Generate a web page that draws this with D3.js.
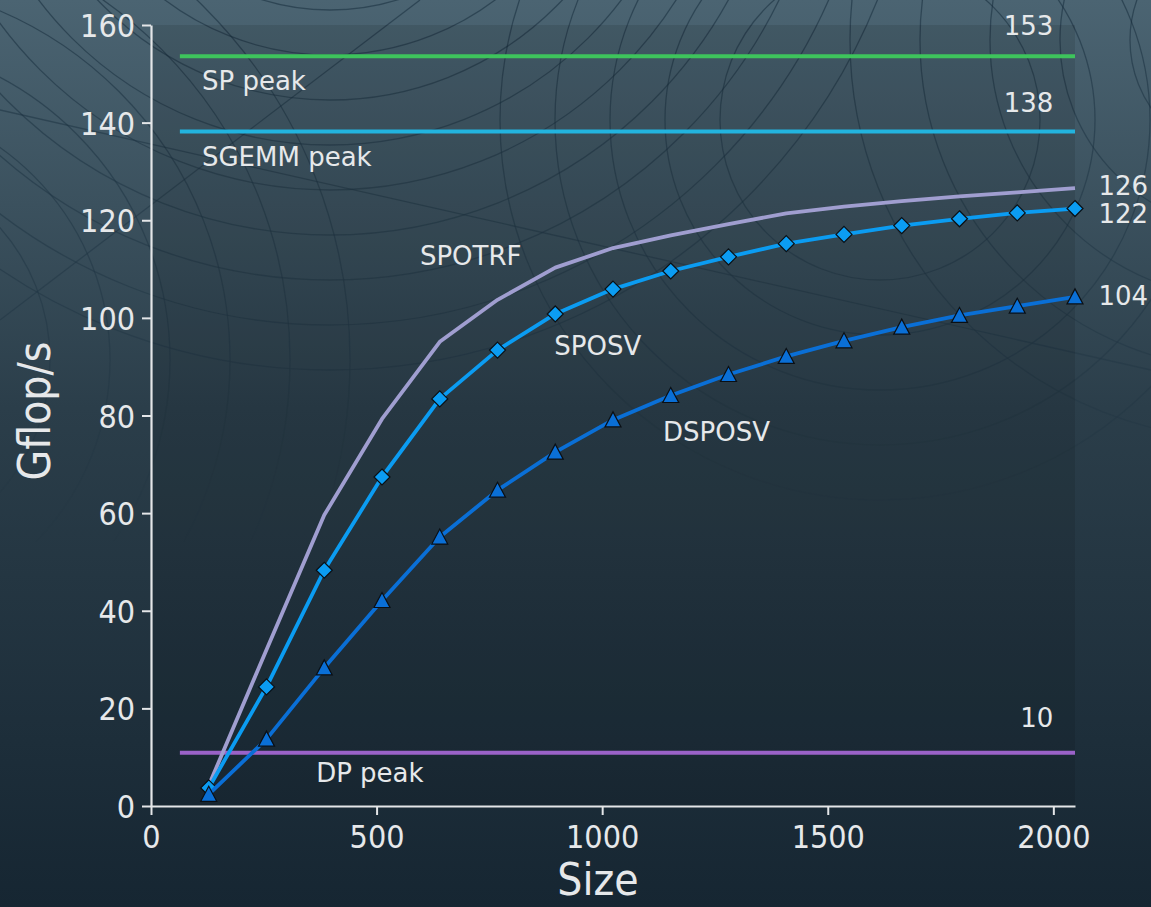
<!DOCTYPE html>
<html>
<head>
<meta charset="utf-8">
<script src="https://cdn.jsdelivr.net/npm/d3@7"></script>
<style>
  body { margin: 0; background: #1b2d38; }
  svg { display: block; }
  .tick text { font-family: "DejaVu Sans Condensed", "DejaVu Sans", sans-serif; font-stretch: condensed; font-size: 32px; fill: #e6e8ea; }
  .ann { font-family: "DejaVu Sans", sans-serif; font-size: 26px; fill: #e6e8ea; }
  .axis-label { font-family: "DejaVu Sans Condensed", "DejaVu Sans", sans-serif; font-stretch: condensed; font-size: 44px; fill: #e6e8ea; }
</style>
</head>
<body>
<div class="chart"></div>
<script>
// matrix sizes
var sizes = [128, 256, 384, 512, 640, 768, 896, 1024, 1152, 1280, 1408, 1536, 1664, 1792, 1920, 2048];

// Gflop/s per routine
var spotrf = [4.2, 32.0, 59.6, 79.3, 95.1, 103.7, 110.3, 114.3, 116.9, 119.2, 121.4, 122.8, 123.9, 124.9, 125.7, 126.6];
var sposv  = [3.7, 24.4, 48.3, 67.4, 83.4, 93.4, 100.8, 105.9, 109.6, 112.5, 115.2, 117.1, 118.9, 120.3, 121.5, 122.4];
var dsposv = [2.4, 13.7, 28.3, 42.1, 55.1, 64.7, 72.5, 79.1, 84.1, 88.4, 92.1, 95.3, 98.1, 100.5, 102.4, 104.3];

// peak lines
var peakNames  = ["SP peak", "SGEMM peak", "DP peak"];
var peakValues = [153.6, 138.2, 10.9];
var peakStart = 64, peakEnd = 2048;

var xTicks = [0, 500, 1000, 1500, 2000];
var yTicks = [0, 20, 40, 60, 80, 100, 120, 140, 160];

var W = 1151, H = 907;
var margin = { top: 25, right: 76, bottom: 101, left: 151 };

var x = d3.scaleLinear().domain([0, 2048]).range([margin.left, W - margin.right]);
var y = d3.scaleLinear().domain([0, 160]).range([H - margin.bottom, margin.top]);

var svg = d3.select(".chart").append("svg")
    .attr("width", W)
    .attr("height", H);

var defs = svg.append("defs");
var bg = defs.append("linearGradient").attr("id", "bg")
    .attr("x1", 0).attr("y1", 0).attr("x2", 0).attr("y2", 1);
bg.append("stop").attr("offset", "0%").attr("stop-color", "#4b6472");
bg.append("stop").attr("offset", "45%").attr("stop-color", "#2b3e4a");
bg.append("stop").attr("offset", "100%").attr("stop-color", "#162632");

var fade = defs.append("linearGradient").attr("id", "fade")
    .attr("x1", 0).attr("y1", 0).attr("x2", 0).attr("y2", 1);
fade.append("stop").attr("offset", "0%").attr("stop-color", "#fff");
fade.append("stop").attr("offset", "35%").attr("stop-color", "#888");
fade.append("stop").attr("offset", "60%").attr("stop-color", "#000");
defs.append("mask").attr("id", "fadeMask")
    .append("rect").attr("width", W).attr("height", H).attr("fill", "url(#fade)");

svg.append("rect").attr("width", W).attr("height", H).attr("fill", "url(#bg)");

// faint decorative arcs of the background
var deco = svg.append("g").attr("mask", "url(#fadeMask)")
    .attr("fill", "none").attr("stroke", "#112838").attr("stroke-opacity", 0.5).attr("stroke-width", 1.3);
[[330, -220, 140, 620, 45], [880, 120, 160, 380, 55], [-150, 360, 200, 520, 60], [1250, 40, 120, 420, 70]].forEach(function(c) {
    for (var r = c[2]; r <= c[3]; r += c[4]) {
        deco.append("circle").attr("cx", c[0]).attr("cy", c[1]).attr("r", r);
    }
});
deco.append("line").attr("x1", 0).attr("y1", 110).attr("x2", 1151).attr("y2", 370);
deco.append("line").attr("x1", 0).attr("y1", 320).attr("x2", 420).attr("y2", 0);

// plot area
svg.append("rect")
    .attr("x", x(0)).attr("y", y(160))
    .attr("width", x(2048) - x(0)).attr("height", y(0) - y(160))
    .attr("fill", "#000").attr("fill-opacity", 0.1);

// axes
var xAxis = svg.append("g")
    .attr("transform", "translate(0," + y(0) + ")")
    .call(d3.axisBottom(x).tickValues(xTicks).tickFormat(d3.format("d")).tickSize(9).tickPadding(6).tickSizeOuter(0));
var yAxis = svg.append("g")
    .attr("transform", "translate(" + x(0) + ",0)")
    .call(d3.axisLeft(y).tickValues(yTicks).tickFormat(d3.format("d")).tickSize(9).tickPadding(7).tickSizeOuter(0));
[xAxis, yAxis].forEach(function(a) {
    a.select(".domain").attr("stroke", "#e4e6e8").attr("stroke-width", 2.2);
    a.selectAll(".tick line").attr("stroke", "#e4e6e8").attr("stroke-width", 2);
});
xAxis.selectAll(".tick text").attr("dy", "0.85em");
yAxis.selectAll(".tick text").attr("dy", "0.36em");

svg.append("text").attr("class", "axis-label")
    .attr("x", 598).attr("y", 895).attr("text-anchor", "middle").text("Size");
svg.append("text").attr("class", "axis-label")
    .attr("transform", "translate(50,411) rotate(-90)")
    .attr("text-anchor", "middle").text("Gflop/s");

// peak lines
var peakColors = ["#3ec45c", "#22b4df", "#9a62c8"];
svg.selectAll(".peak")
    .data(peakValues)
    .enter().append("line")
    .attr("class", "peak")
    .attr("x1", x(peakStart)).attr("x2", x(peakEnd))
    .attr("y1", function(d) { return y(d); })
    .attr("y2", function(d) { return y(d); })
    .attr("stroke", function(d, i) { return peakColors[i]; })
    .attr("stroke-width", 4);

// curves
var series = [
    { name: "SPOTRF", values: spotrf, color: "#a09ed0", marker: null },
    { name: "SPOSV", values: sposv, color: "#0b9cf2", marker: "diamond" },
    { name: "DSPOSV", values: dsposv, color: "#0a6fd6", marker: "triangle" }
];

var line = d3.line()
    .x(function(d, i) { return x(sizes[i]); })
    .y(function(d) { return y(d); });

var markerPath = {
    diamond: "M0,-8L8,0L0,8L-8,0Z",
    triangle: "M0,-8L8,7L-8,7Z"
};

series.forEach(function(s) {
    svg.append("path")
        .datum(s.values)
        .attr("d", line)
        .attr("fill", "none")
        .attr("stroke", s.color)
        .attr("stroke-width", 3.8)
        .attr("stroke-linejoin", "round");
    if (s.marker) {
        svg.selectAll(".m-" + s.name)
            .data(s.values)
            .enter().append("path")
            .attr("class", "m-" + s.name)
            .attr("d", markerPath[s.marker])
            .attr("transform", function(d, i) { return "translate(" + x(sizes[i]) + "," + y(d) + ")"; })
            .attr("fill", s.color)
            .attr("stroke", "#0a0f14")
            .attr("stroke-width", 1.2);
    }
});

// annotations (anchor in data units)
var annotations = [
    { text: Math.floor(peakValues[0]), sx: 2000, sy: 159.8, anchor: "end" },
    { text: peakNames[0], sx: 113, sy: 148.5, anchor: "start" },
    { text: Math.floor(peakValues[1]), sx: 2000, sy: 144.0, anchor: "end" },
    { text: peakNames[1], sx: 113, sy: 133.0, anchor: "start" },
    { text: Math.floor(peakValues[2]), sx: 2000, sy: 18.0, anchor: "end" },
    { text: peakNames[2], sx: 366, sy: 6.8, anchor: "start" },
    { text: "SPOTRF", sx: 596, sy: 112.7, anchor: "start" },
    { text: "SPOSV", sx: 894, sy: 94.4, anchor: "start" },
    { text: "DSPOSV", sx: 1135, sy: 76.6, anchor: "start" },
    { text: Math.floor(spotrf[spotrf.length - 1]), sx: 2100, sy: 127.0, anchor: "start" },
    { text: Math.floor(sposv[sposv.length - 1]), sx: 2100, sy: 121.3, anchor: "start" },
    { text: Math.floor(dsposv[dsposv.length - 1]), sx: 2100, sy: 104.5, anchor: "start" }
];

svg.selectAll(".ann")
    .data(annotations)
    .enter().append("text")
    .attr("class", "ann")
    .attr("x", function(d) { return x(d.sx); })
    .attr("y", function(d) { return y(d.sy); })
    .attr("dy", "0.36em")
    .attr("text-anchor", function(d) { return d.anchor; })
    .text(function(d) { return d.text; });
</script>
</body>
</html>
